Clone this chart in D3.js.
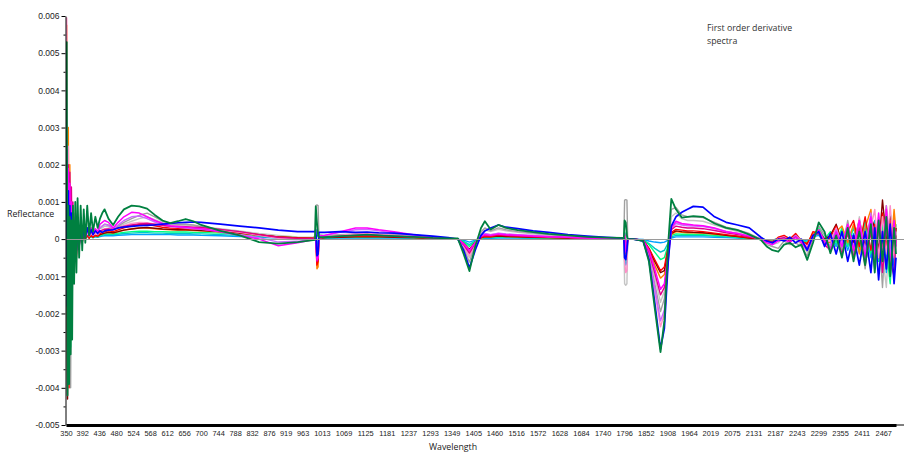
<!DOCTYPE html>
<html>
<head>
<meta charset="utf-8">
<script src="https://cdn.jsdelivr.net/npm/d3@7"></script>
<style>
  body { margin: 0; background: #fff; }
  svg { display: block; }
</style>
</head>
<body>
<svg id="chart" width="904" height="453"></svg>
<script>
// wavelengths (nm) shared by every spectrum
const wavelengths = [
  350,352,354,356,358,360,362,364,366,368,371,374,377,380,384,388,392,396,400,405,410,415,420,426,432,438,444,450,
  460,472,485,500,520,540,560,580,600,620,640,660,680,700,750,800,850,900,950,990,
  995,997,1000,1003,1005,
  1020,1060,1100,1130,1160,1200,1250,1300,1340,
  1365,1380,1395,1410,1425,1435,1450,1470,1490,
  1520,1560,1600,1650,1700,1750,1790,
  1795,1797,1800,1803,1805,
  1820,1845,1860,1875,1890,1900,1910,1918,1930,1945,1960,
  1975,2000,2030,2060,2090,2120,2150,
  2165,2180,2195,2210,2225,2240,2255,2270,2285,2300,2315,2330,2345,2360,2375,2390,2405,2420,2435,2445,2455,2465,2475,2485,2495,2500
];

// first order derivative of reflectance, values in units of 0.001
const green = [
  1.2,5.3,-4.2,0.9,-3.9,0.6,-3.1,0.5,-2.7,0.9,-1.2,1.0,-0.9,1.1,-0.5,0.9,-0.3,0.8,-0.1,0.9,0.1,0.7,0.2,0.6,0.3,0.55,0.7,0.8,
  0.55,0.38,0.6,0.8,0.9,0.88,0.82,0.65,0.5,0.43,0.48,0.54,0.48,0.38,0.22,0.1,-0.08,-0.12,-0.08,-0.03,
  -0.02,0.88,0.45,0.1,0.05,
  0.05,0.08,0.1,0.12,0.1,0.08,0.06,0.03,0.02,
  0.02,-0.4,-0.86,-0.2,0.3,0.48,0.26,0.38,0.3,
  0.24,0.19,0.14,0.1,0.06,0.04,0.03,
  0.02,0.5,0.45,0.1,0.0,
  0.0,-0.05,-0.6,-1.85,-3.04,-2.2,-0.1,1.08,0.8,0.58,0.6,
  0.62,0.6,0.42,0.3,0.24,0.12,-0.02,
  -0.2,-0.3,-0.34,-0.15,-0.1,-0.22,-0.15,-0.56,-0.1,0.45,0.2,-0.38,0.1,-0.5,0.3,-0.6,0.2,-0.7,0.4,-0.9,0.5,-0.6,0.6,-1.0,0.3,-0.4
];
const blue = [
  0.5,2.4,-1.8,1.3,-2.2,0.9,-1.5,0.7,-1.0,0.6,-0.6,0.5,-0.3,0.4,-0.2,0.35,-0.05,0.3,0.05,0.3,0.1,0.25,0.12,0.22,0.15,0.22,0.18,0.22,
  0.24,0.25,0.3,0.32,0.34,0.36,0.37,0.38,0.4,0.42,0.44,0.45,0.46,0.45,0.4,0.35,0.3,0.24,0.2,0.2,
  0.2,0.25,-0.45,-0.4,0.18,
  0.18,0.2,0.18,0.19,0.17,0.16,0.12,0.08,0.04,
  0.0,-0.3,-0.78,-0.3,0.1,0.22,0.3,0.38,0.32,
  0.28,0.22,0.18,0.12,0.08,0.05,0.03,
  0.03,-0.5,-0.55,-0.3,0.0,
  0.0,-0.05,-0.55,-1.7,-2.95,-2.4,-0.6,0.35,0.6,0.72,0.8,
  0.88,0.86,0.6,0.45,0.38,0.3,0.05,
  -0.05,-0.1,0.0,-0.05,0.05,-0.1,0.0,-0.3,0.1,0.2,-0.2,0.15,-0.4,0.2,-0.6,0.1,-0.7,0.2,-0.9,0.3,-1.1,0.2,-0.8,0.4,-1.2,-0.5
];
const magenta = [
  0.3,2.0,-0.8,1.9,-1.2,1.5,-0.6,1.0,-0.4,0.7,-0.2,0.6,-0.1,0.5,0.0,0.4,0.05,0.35,0.1,0.3,0.12,0.3,0.15,0.28,0.2,0.4,0.45,0.5,
  0.45,0.3,0.45,0.6,0.72,0.7,0.6,0.5,0.42,0.36,0.34,0.32,0.3,0.28,0.2,0.1,0.0,-0.18,-0.1,-0.02,
  -0.02,0.0,-0.56,-0.5,0.08,
  0.1,0.2,0.3,0.3,0.25,0.2,0.12,0.05,0.02,
  0.0,-0.12,-0.3,-0.1,0.08,0.12,0.1,0.14,0.12,
  0.1,0.08,0.06,0.05,0.03,0.02,0.01,
  0.01,0.15,-0.35,-0.3,0.0,
  0.0,-0.03,-0.3,-0.8,-1.35,-1.2,-0.4,0.3,0.48,0.42,0.4,
  0.38,0.36,0.3,0.2,0.15,0.08,0.0,
  -0.1,-0.15,-0.05,0.0,-0.1,0.05,-0.1,-0.3,0.05,0.25,-0.05,-0.3,0.2,-0.2,0.4,-0.3,0.5,-0.5,0.6,-0.4,0.7,-0.5,0.8,-0.7,0.5,-0.2
];
const gray1 = [
  0.8,3.0,-1.5,1.8,-2.8,1.0,-4.0,0.6,-1.8,0.4,-1.0,0.3,-0.5,0.3,-0.2,0.25,-0.05,0.3,0.05,0.25,0.1,0.3,0.15,0.25,0.2,0.3,0.35,0.4,
  0.38,0.28,0.35,0.45,0.55,0.64,0.7,0.6,0.48,0.42,0.4,0.4,0.38,0.34,0.26,0.2,0.12,0.05,0.02,0.02,
  0.1,0.9,0.92,0.9,0.12,
  0.1,0.12,0.14,0.15,0.14,0.12,0.1,0.05,0.02,
  0.0,-0.25,-0.62,-0.15,0.2,0.3,0.22,0.3,0.25,
  0.2,0.16,0.12,0.08,0.05,0.03,0.02,
  0.0,1.05,1.06,1.05,0.0,
  0.0,-0.05,-0.45,-1.2,-1.95,-1.6,-0.4,0.8,0.85,0.65,0.6,
  0.6,0.58,0.45,0.32,0.25,0.15,0.0,
  -0.15,-0.2,-0.25,-0.05,-0.15,-0.1,-0.2,-0.45,0.0,0.35,0.1,-0.25,0.3,-0.3,0.5,-0.4,0.4,-0.8,0.5,-0.6,0.3,-1.3,0.5,-0.9,0.6,0.0
];
const gray2 = [
  0.6,1.5,-3.5,0.8,-2.0,0.5,-1.4,0.4,-0.9,0.3,-0.6,0.25,-0.3,0.2,-0.1,0.2,0.0,0.25,0.05,0.2,0.1,0.25,0.15,0.22,0.2,0.28,0.3,0.35,
  0.33,0.26,0.32,0.4,0.48,0.55,0.6,0.52,0.44,0.4,0.38,0.37,0.36,0.33,0.28,0.22,0.15,0.1,0.06,0.05,
  0.05,0.1,0.08,0.1,0.06,
  0.08,0.1,0.12,0.12,0.12,0.1,0.08,0.04,0.02,
  0.0,-0.2,-0.5,-0.12,0.15,0.25,0.2,0.26,0.22,
  0.18,0.14,0.1,0.07,0.05,0.03,0.02,
  0.0,-1.2,-1.24,-1.2,0.0,
  0.0,-0.05,-0.4,-1.0,-1.7,-1.4,-0.3,0.6,0.7,0.55,0.5,
  0.5,0.48,0.38,0.28,0.2,0.12,0.0,
  -0.1,-0.15,-0.1,0.05,-0.05,0.0,-0.15,-0.35,0.05,0.3,0.0,-0.2,0.15,-0.4,0.25,-0.5,0.6,-0.4,0.3,-0.7,0.6,-0.4,-1.3,0.7,-0.6,0.2
];
const violet = [
  0.2,1.0,-0.5,0.8,-2.5,0.6,-1.3,0.5,-0.7,0.4,-0.4,0.35,-0.2,0.3,-0.05,0.25,0.02,0.25,0.08,0.22,0.1,0.2,0.14,0.22,0.2,0.3,0.35,0.4,
  0.36,0.28,0.38,0.5,0.6,0.62,0.55,0.46,0.38,0.34,0.32,0.3,0.28,0.26,0.2,0.12,0.04,-0.08,-0.06,0.0,
  0.02,0.05,-0.3,-0.25,0.04,
  0.1,0.18,0.25,0.26,0.22,0.16,0.1,0.05,0.02,
  0.0,-0.15,-0.35,-0.1,0.1,0.15,0.12,0.16,0.14,
  0.12,0.1,0.07,0.05,0.04,0.02,0.01,
  0.0,-0.1,-0.15,-0.12,0.0,
  0.0,-0.05,-0.5,-1.3,-2.2,-1.9,-0.6,0.3,0.42,0.38,0.36,
  0.35,0.34,0.28,0.2,0.15,0.08,0.0,
  -0.08,-0.12,0.0,0.05,-0.05,0.1,-0.05,-0.25,0.1,0.2,-0.1,-0.15,0.25,-0.1,0.3,-0.2,0.45,-0.3,0.7,-0.2,0.4,-0.6,0.9,-0.4,0.3,-0.1
];
const red = [
  0.4,1.8,-1.0,0.6,-4.0,0.5,-1.2,0.4,-0.8,0.3,-0.9,0.2,-0.5,0.15,-0.2,0.1,-0.1,0.12,0.0,0.1,0.02,0.12,0.05,0.1,0.08,0.15,0.18,0.2,
  0.22,0.2,0.25,0.3,0.36,0.4,0.4,0.36,0.32,0.3,0.29,0.28,0.27,0.26,0.22,0.18,0.12,0.06,0.03,0.02,
  0.02,0.05,-0.7,-0.6,0.02,
  0.05,0.07,0.08,0.09,0.08,0.07,0.05,0.03,0.01,
  0.0,-0.15,-0.35,-0.12,0.04,0.08,0.07,0.1,0.09,
  0.08,0.06,0.05,0.04,0.03,0.02,0.01,
  0.0,0.1,-0.2,-0.15,0.0,
  0.0,-0.03,-0.25,-0.55,-0.85,-0.75,-0.2,0.18,0.26,0.24,0.22,
  0.22,0.2,0.16,0.12,0.08,0.04,0.0,
  -0.05,-0.1,0.05,0.1,0.0,0.15,-0.05,-0.15,0.2,0.15,-0.1,0.05,0.35,-0.15,0.2,0.5,-0.2,0.6,-0.3,0.4,-0.5,0.7,-0.2,0.5,-0.4,0.1
];
const orange = [
  1.5,5.75,0.5,3.0,-0.5,2.0,-1.0,0.8,-0.5,0.5,-0.3,0.4,-0.2,0.3,0.0,0.2,-0.05,0.15,0.02,0.12,0.05,0.1,0.05,0.1,0.08,0.12,0.14,0.16,
  0.18,0.16,0.2,0.24,0.28,0.3,0.3,0.28,0.26,0.25,0.24,0.24,0.23,0.22,0.19,0.15,0.1,0.06,0.04,0.03,
  0.03,0.05,-0.8,-0.75,0.02,
  0.05,0.06,0.07,0.07,0.07,0.06,0.04,0.02,0.01,
  0.0,-0.12,-0.3,-0.1,0.03,0.06,0.06,0.08,0.07,
  0.06,0.05,0.04,0.03,0.02,0.01,0.01,
  0.0,-0.2,-0.4,-0.35,0.0,
  0.0,-0.03,-0.3,-0.7,-1.05,-0.95,-0.3,0.12,0.2,0.18,0.17,
  0.17,0.16,0.13,0.1,0.07,0.03,0.0,
  -0.03,-0.06,0.02,0.08,-0.03,0.1,-0.1,-0.1,0.15,0.25,-0.05,-0.1,0.2,0.35,-0.1,0.4,-0.4,0.3,0.8,-0.3,0.5,-0.2,0.9,-0.6,0.8,0.2
];
const darkred = [
  0.3,1.2,-4.3,0.5,-1.5,0.4,-0.8,0.3,-0.5,0.2,-0.3,0.15,-0.15,0.1,-0.05,0.1,0.0,0.1,0.03,0.1,0.05,0.1,0.06,0.1,0.08,0.12,0.14,0.16,
  0.18,0.17,0.2,0.24,0.27,0.3,0.31,0.29,0.27,0.26,0.25,0.25,0.24,0.23,0.2,0.16,0.11,0.06,0.03,0.02,
  0.02,0.04,-0.4,-0.35,0.02,
  0.04,0.05,0.06,0.06,0.06,0.05,0.04,0.02,0.01,
  0.0,-0.12,-0.28,-0.08,0.04,0.07,0.06,0.08,0.07,
  0.06,0.05,0.04,0.03,0.02,0.01,0.01,
  0.0,-0.1,-0.25,-0.2,0.0,
  0.0,-0.03,-0.25,-0.6,-0.9,-0.85,-0.25,0.15,0.22,0.2,0.19,
  0.18,0.17,0.14,0.1,0.07,0.03,0.0,
  -0.04,-0.08,0.03,0.05,-0.02,0.12,-0.08,-0.12,0.1,0.2,0.0,0.1,0.4,-0.1,0.3,-0.1,0.5,-0.2,0.6,0.3,-0.3,1.05,0.0,0.6,-0.3,0.3
];
const cyan = [
  0.5,3.1,0.2,1.5,-0.6,0.8,-0.4,0.5,-0.3,0.3,-0.2,0.25,-0.1,0.2,0.0,0.15,0.02,0.12,0.03,0.1,0.04,0.08,0.04,0.08,0.06,0.1,0.1,0.12,
  0.12,0.12,0.13,0.15,0.16,0.17,0.17,0.16,0.16,0.15,0.15,0.15,0.14,0.14,0.12,0.1,0.07,0.04,0.03,0.02,
  0.02,0.03,-0.15,-0.1,0.02,
  0.03,0.04,0.04,0.05,0.04,0.04,0.03,0.02,0.01,
  0.0,-0.06,-0.15,-0.05,0.02,0.04,0.04,0.05,0.05,
  0.04,0.03,0.03,0.02,0.01,0.01,0.0,
  0.0,-0.4,-0.6,-0.55,0.0,
  0.0,-0.02,-0.12,-0.25,-0.35,-0.3,-0.1,0.06,0.1,0.1,0.1,
  0.1,0.1,0.08,0.06,0.04,0.02,0.0,
  -0.02,-0.05,0.02,0.05,0.0,0.06,-0.05,-0.08,0.08,0.15,-0.05,0.05,-0.2,0.25,-0.15,0.3,-0.25,0.45,-0.3,0.5,-0.4,0.3,-0.6,0.7,-0.2,0.4
];
const lightgreen = [
  0.3,1.0,-0.3,0.7,-0.5,0.5,-2.9,0.4,-0.3,0.3,-0.15,0.2,-0.1,0.15,-0.02,0.1,0.0,0.1,0.02,0.08,0.03,0.08,0.04,0.08,0.06,0.1,0.12,0.14,
  0.14,0.14,0.16,0.18,0.2,0.21,0.21,0.2,0.2,0.19,0.19,0.19,0.18,0.18,0.16,0.14,0.1,0.06,0.04,0.03,
  0.03,0.05,0.1,0.08,0.03,
  0.04,0.05,0.05,0.06,0.05,0.05,0.04,0.02,0.01,
  0.0,-0.08,-0.2,-0.06,0.03,0.05,0.05,0.06,0.06,
  0.05,0.04,0.03,0.02,0.02,0.01,0.0,
  0.0,0.2,0.1,0.05,0.0,
  0.0,-0.02,-0.15,-0.35,-0.55,-0.5,-0.15,0.1,0.14,0.13,0.13,
  0.13,0.12,0.1,0.08,0.05,0.02,0.0,
  -0.03,-0.06,0.0,0.08,0.02,0.05,-0.02,-0.1,0.12,0.28,0.0,0.2,-0.1,0.3,-0.2,0.35,-0.1,0.5,-0.4,0.2,-0.6,0.4,-0.3,-1.2,0.5,0.0
];
const skyblue = [
  0.4,3.0,0.0,1.2,-0.3,0.6,-0.2,0.4,-0.1,0.25,-0.05,0.2,0.0,0.15,0.02,0.1,0.03,0.08,0.03,0.07,0.04,0.06,0.04,0.06,0.05,0.07,0.08,0.09,
  0.09,0.09,0.1,0.11,0.12,0.12,0.12,0.12,0.12,0.12,0.11,0.11,0.11,0.1,0.09,0.07,0.05,0.03,0.02,0.01,
  0.01,0.02,-0.1,-0.08,0.01,
  0.02,0.03,0.03,0.03,0.03,0.03,0.02,0.01,0.0,
  0.0,-0.03,-0.08,-0.03,0.01,0.02,0.02,0.03,0.03,
  0.03,0.02,0.02,0.01,0.01,0.0,0.0,
  0.0,-0.5,-0.7,-0.6,0.0,
  0.0,-0.01,-0.05,-0.08,-0.1,-0.08,-0.03,0.03,0.06,0.06,0.06,
  0.06,0.06,0.05,0.04,0.03,0.01,0.0,
  -0.02,-0.03,0.02,0.04,-0.02,0.05,-0.03,-0.05,0.06,0.1,-0.1,0.1,-0.15,0.2,-0.3,0.15,-0.35,0.3,-0.5,0.35,-0.6,0.5,-0.9,0.3,-0.7,0.1
];
const pink = [
  2.0,5.95,1.0,2.5,-1.0,1.2,-0.6,0.7,-0.4,0.5,-0.25,0.3,-0.1,0.25,0.0,0.2,0.05,0.18,0.06,0.15,0.08,0.15,0.1,0.15,0.12,0.2,0.24,0.28,
  0.28,0.24,0.3,0.36,0.42,0.45,0.44,0.4,0.36,0.33,0.32,0.31,0.3,0.29,0.24,0.18,0.1,0.02,0.0,0.01,
  0.01,0.03,-0.5,-0.45,0.02,
  0.06,0.1,0.14,0.15,0.13,0.1,0.07,0.03,0.01,
  0.0,-0.18,-0.45,-0.12,0.08,0.14,0.12,0.15,0.13,
  0.11,0.09,0.07,0.05,0.03,0.02,0.01,
  0.0,-0.6,-0.9,-0.85,0.0,
  0.0,-0.04,-0.5,-1.4,-2.36,-2.0,-0.55,0.3,0.45,0.4,0.38,
  0.37,0.35,0.29,0.21,0.15,0.08,0.0,
  -0.06,-0.1,0.02,0.06,-0.04,0.08,-0.06,-0.2,0.08,0.22,-0.08,-0.05,0.3,-0.15,0.4,-0.25,0.55,-0.35,0.3,0.8,-0.5,0.6,-0.4,0.9,-0.5,0.2
];
const deeppink = [
  0.8,2.0,-0.5,2.0,-1.0,1.8,-0.8,1.4,-0.6,1.0,-1.2,0.7,-0.4,0.5,-0.2,0.4,-0.05,0.3,0.05,0.28,0.1,0.25,0.12,0.22,0.18,0.22,0.24,0.26,
  0.27,0.26,0.3,0.34,0.38,0.41,0.42,0.4,0.37,0.35,0.34,0.33,0.32,0.31,0.26,0.2,0.12,0.05,0.02,0.02,
  0.02,0.04,-0.6,-0.55,0.02,
  0.06,0.08,0.1,0.11,0.1,0.08,0.06,0.03,0.01,
  0.0,-0.15,-0.38,-0.1,0.06,0.1,0.09,0.12,0.1,
  0.09,0.07,0.06,0.04,0.03,0.02,0.01,
  0.0,-0.15,-0.3,-0.25,0.0,
  0.0,-0.03,-0.35,-0.9,-1.5,-1.3,-0.4,0.25,0.35,0.32,0.3,
  0.3,0.28,0.23,0.17,0.12,0.06,0.0,
  -0.05,-0.08,0.0,0.04,-0.06,0.06,-0.1,-0.25,0.05,0.18,-0.15,-0.3,0.1,-0.4,0.15,-0.5,0.3,-0.7,0.2,-0.8,0.4,-0.9,0.3,-0.6,-1.0,0.0
];

// axis labels
const xTickLabels = [350,392,436,480,524,568,612,656,700,744,788,832,876,919,963,1013,1069,1125,1181,1237,1293,1349,1405,1460,1516,1572,1628,1684,1740,1796,1852,1908,1964,2019,2075,2131,2187,2243,2299,2355,2411,2467];
const yTicks = [-0.005,-0.004,-0.003,-0.002,-0.001,0,0.001,0.002,0.003,0.004,0.005,0.006];
const yMinorTicks = [-0.0045,-0.0035,-0.0025,-0.0015,-0.0005,0.0005,0.0015,0.0025,0.0035,0.0045,0.0055];

// drawing order: first is at the back
const series = [
  {values: gray2, color: "#c4c4c4", width: 1.4},
  {values: gray1, color: "#a0a0a0", width: 1.4},
  {values: skyblue, color: "#00a0ff", width: 1.4},
  {values: cyan, color: "#00c8c8", width: 1.4},
  {values: lightgreen, color: "#00ff80", width: 1.4},
  {values: orange, color: "#ff8000", width: 1.4},
  {values: darkred, color: "#800000", width: 1.4},
  {values: red, color: "#ff0000", width: 1.4},
  {values: pink, color: "#ff8fc8", width: 1.4},
  {values: violet, color: "#cc66ff", width: 1.4},
  {values: deeppink, color: "#e0008a", width: 1.4},
  {values: magenta, color: "#ff00ff", width: 1.5},
  {values: blue, color: "#0000ff", width: 1.7},
  {values: green, color: "#008040", width: 1.8}
].filter(s => {
  if (s.values.length !== wavelengths.length) console.warn("length mismatch", s.color, s.values.length);
  return s.values.length === wavelengths.length;
});

const svg = d3.select("#chart");
const margin = {top: 16, right: 8, bottom: 28, left: 66};
const width = 904, height = 453;

const x = d3.scaleLinear().domain([350, 2500]).range([margin.left, 896]);
const y = d3.scaleLinear().domain([-0.005, 0.006]).range([height - margin.bottom, margin.top]);

svg.append("defs").append("clipPath").attr("id", "clip")
  .append("rect")
  .attr("x", margin.left).attr("y", margin.top - 1)
  .attr("width", 896 - margin.left + 1).attr("height", y(-0.005) - margin.top + 1);

const line = d3.line()
  .x((d, i) => x(wavelengths[i]))
  .y(d => y(d * 1e-3));

svg.append("g").attr("clip-path", "url(#clip)")
  .selectAll("path.spectrum")
  .data(series)
  .enter().append("path")
  .attr("class", "spectrum")
  .attr("fill", "none")
  .attr("stroke", d => d.color)
  .attr("stroke-width", d => d.width)
  .attr("stroke-linejoin", "round")
  .attr("d", d => line(d.values));

// zero reference line
svg.append("line")
  .attr("x1", margin.left).attr("x2", width)
  .attr("y1", Math.round(y(0)) + 0.5).attr("y2", Math.round(y(0)) + 0.5)
  .attr("stroke", "#9a9a9a").attr("stroke-width", 1);

// y axis
const yAxis = svg.append("g")
  .attr("transform", "translate(65.5,0)")
  .call(d3.axisLeft(y).tickValues(yTicks).tickSize(4).tickSizeOuter(0).tickPadding(2)
    .tickFormat(d => d === 0 ? "0" : d.toFixed(3)));
yAxis.selectAll("text")
  .attr("font-family", "'Liberation Sans', Arial, sans-serif")
  .attr("font-size", 8.5)
  .attr("fill", "#222");

svg.append("g")
  .attr("transform", "translate(65.5,0)")
  .call(d3.axisLeft(y).tickValues(yMinorTicks).tickSize(2).tickFormat(""))
  .select(".domain").remove();

// x axis
const xAxis = svg.append("g")
  .attr("transform", "translate(0," + y(-0.005) + ")")
  .call(d3.axisBottom(x).tickValues(xTickLabels).tickSize(0).tickSizeOuter(0).tickPadding(6)
    .tickFormat(d3.format("d")));
xAxis.select(".domain").attr("stroke-width", 3);
xAxis.selectAll("text")
  .attr("font-family", "'Liberation Sans', Arial, sans-serif")
  .attr("font-size", 7.4)
  .attr("fill", "#222");
svg.append("line")
  .attr("x1", 896).attr("x2", width)
  .attr("y1", y(-0.005)).attr("y2", y(-0.005))
  .attr("stroke", "#000").attr("stroke-width", 1);

// titles
svg.append("text")
  .attr("x", 7).attr("y", 217)
  .attr("font-family", "'Open Sans', sans-serif")
  .attr("font-size", 8.8)
  .attr("fill", "#222")
  .text("Reflectance");

svg.append("text")
  .attr("x", 453).attr("y", 450)
  .attr("text-anchor", "middle")
  .attr("font-family", "'Open Sans', sans-serif")
  .attr("font-size", 8.8)
  .attr("fill", "#222")
  .text("Wavelength");

const note = svg.append("text")
  .attr("font-family", "'Open Sans', sans-serif")
  .attr("font-size", 8.8)
  .attr("fill", "#333");
note.append("tspan").attr("x", 707).attr("y", 31).text("First order derivative");
note.append("tspan").attr("x", 707).attr("y", 44).text("spectra");
</script>
</body>
</html>
